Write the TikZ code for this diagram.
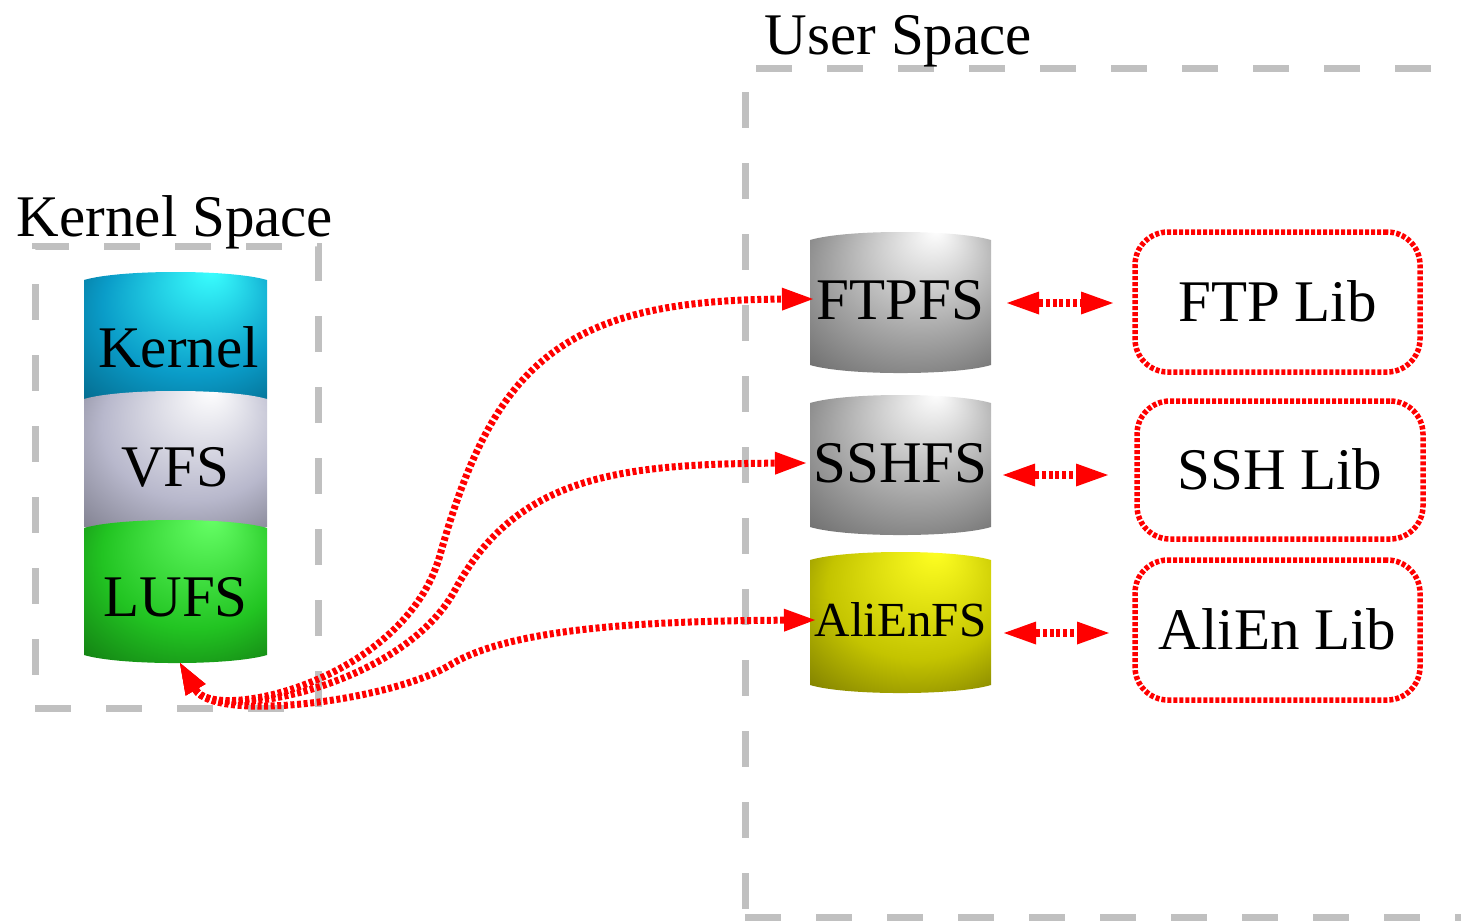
\documentclass[tikz,border=0pt]{standalone}
\usepackage{fontspec}
\setmainfont{Liberation Serif}
\usetikzlibrary{arrows.meta,calc}
\definecolor{kernhi}{HTML}{3AFFFF}
\definecolor{kernmid}{HTML}{0A9CC8}
\definecolor{kernlo}{HTML}{004C6A}
\definecolor{vfshi}{HTML}{FFFFFF}
\definecolor{vfsmid}{HTML}{B8B8CC}
\definecolor{vfslo}{HTML}{5E5E6A}
\definecolor{lufshi}{HTML}{66FF66}
\definecolor{lufsmid}{HTML}{22C422}
\definecolor{lufslo}{HTML}{0A580A}
\definecolor{fshi}{HTML}{FFFFFF}
\definecolor{fsmid}{HTML}{A2A2A2}
\definecolor{fslo}{HTML}{505050}
\definecolor{alihi}{HTML}{FFFF22}
\definecolor{alimid}{HTML}{C4C400}
\definecolor{alilo}{HTML}{585800}
\definecolor{boxgray}{HTML}{C0C0C0}
\definecolor{linkred}{HTML}{FF0000}
\colorlet{cylhi}{white}
\colorlet{cylmid}{gray}
\colorlet{cyllo}{black}
\pgfdeclareradialshading[cylhi,cylmid,cyllo]{cylshade}{\pgfpoint{10bp}{25bp}}{color(0bp)=(cylhi); color(25bp)=(cylmid); color(48bp)=(cyllo); color(50bp)=(cyllo)}
\newcommand\fsbig{\fontsize{59pt}{62pt}\selectfont}
\newcommand\fsmedium{\fontsize{49pt}{52pt}\selectfont}
\begin{document}
\begin{tikzpicture}[x=1pt,y=-1pt,
  spacebox/.style={draw=boxgray, line width=7pt, dash pattern=on 36pt off 35pt, inner sep=0pt, outer sep=0pt},
  spacetitle/.style={font=\fsbig, inner sep=0pt, anchor=base},
  cyl/.style n args={3}{inner sep=0pt, outer sep=0pt, minimum width=181pt, font=\fsbig, text depth=0pt,
    path picture={
      \colorlet{cylhi}{#1}\colorlet{cylmid}{#2}\colorlet{cyllo}{#3}
      \shade[shading=cylshade]
        ($(path picture bounding box.north west)+(0,8)$)
        .. controls ($(path picture bounding box.north west)+(36,-2.7)$) and ($(path picture bounding box.north east)+(-36,-2.7)$) ..
        ($(path picture bounding box.north east)+(0,8)$)
        -- ($(path picture bounding box.south east)+(0,-8)$)
        .. controls ($(path picture bounding box.south east)+(-36,2.7)$) and ($(path picture bounding box.south west)+(36,2.7)$) ..
        ($(path picture bounding box.south west)+(0,-8)$) -- cycle;
    }},
  lib/.style={draw=linkred, line width=5.5pt, dash pattern=on 4pt off 2pt, rounded corners=33pt,
    inner sep=0pt, outer sep=0pt, font=\fsbig, text height=39pt, text depth=0pt},
  link/.style={draw=linkred, line width=7pt, dash pattern=on 4pt off 2.6pt,
    {Triangle[length=31pt,width=23pt,line width=0pt]}-{Triangle[length=31pt,width=23pt,line width=0pt]}},
  libarrow/.style={draw=linkred, line width=7.5pt, dash pattern=on 4pt off 2.8pt,
    {Triangle[length=32pt,width=23pt,line width=0pt]}-{Triangle[length=32pt,width=23pt,line width=0pt]}}
]
\useasboundingbox (0,0) rectangle (1461,922);
\clip (0,0) rectangle (1461,922);

% space boxes and titles
\node[spacebox, minimum width=283pt, minimum height=461.5pt] (kbox) at (176.5,477.25) {};
\node[spacebox, minimum width=735pt, minimum height=849pt] (ubox) at (1112.5,492.5) {};
\node[spacetitle] (ktitle) at (175,236) {Kernel Space};
\node[spacetitle] (utitle) at (898.5,54) {User Space};

% kernel stack
\node[cyl={kernhi}{kernmid}{kernlo}, minimum width=183pt, minimum height=135pt, text height=55pt] (kernel) at (175.5,339.5) {\hspace*{6pt}Kernel};
\node[cyl={vfshi}{vfsmid}{vfslo}, minimum width=183pt, minimum height=144pt, text height=46pt] (vfs) at (175.5,463) {VFS};
\node[cyl={lufshi}{lufsmid}{lufslo}, minimum width=183pt, minimum height=143pt, text height=49pt] (lufs) at (175.5,591.5) {LUFS};

% user space file systems
\node[cyl={fshi}{fsmid}{fslo}, minimum height=141pt, text height=40pt, text depth=7pt] (ftpfs) at (900.5,302.5) {FTPFS};
\node[cyl={fshi}{fsmid}{fslo}, minimum height=140pt, text height=40pt, text depth=6pt] (sshfs) at (900.5,465) {SSHFS};
\node[cyl={alihi}{alimid}{alilo}, font=\fsmedium, minimum height=141pt, text height=33pt, text depth=6pt] (alienfs) at (900.5,622.5) {AliEnFS};

% libraries
\node[lib, minimum width=285pt, minimum height=140pt] (ftplib) at (1277.5,302) {FTP Lib};
\node[lib, minimum width=286pt, minimum height=138pt] (sshlib) at (1280,470) {SSH Lib};
\node[lib, minimum width=285pt, minimum height=140pt] (alienlib) at (1277.5,630) {AliEn Lib};

% fs <-> lib arrows
\draw[libarrow, shorten <=16pt, shorten >=22pt] ([yshift=-0.5pt]ftpfs.east) -- ([yshift=-1pt]ftplib.west);
\draw[libarrow, shorten <=12pt, shorten >=29pt] ([yshift=-10pt]sshfs.east) -- ([yshift=-5pt]sshlib.west);
\draw[libarrow, shorten <=13pt, shorten >=26pt] ([yshift=-10.5pt]alienfs.east) -- ([yshift=-3pt]alienlib.west);

% LUFS <-> fs curves
\coordinate (lufsport) at ([xshift=4.5pt]lufs.south);
\draw[link] (lufsport) .. controls (215,723) and (405,680) .. (440,555)
  .. controls (494,363) and (563,300) .. ([xshift=3pt,yshift=3.5pt]ftpfs.west);
\draw[link] (lufsport) .. controls (215,723) and (403,687) .. (455,590)
  .. controls (516,476) and (620,464) .. ([xshift=-4pt,yshift=2pt]sshfs.west);
\draw[link] (lufsport) .. controls (215,723) and (390.5,701) .. (450,665)
  .. controls (509.5,628.6) and (640,621) .. ([xshift=5pt,yshift=2.5pt]alienfs.west);
\end{tikzpicture}
\end{document}
